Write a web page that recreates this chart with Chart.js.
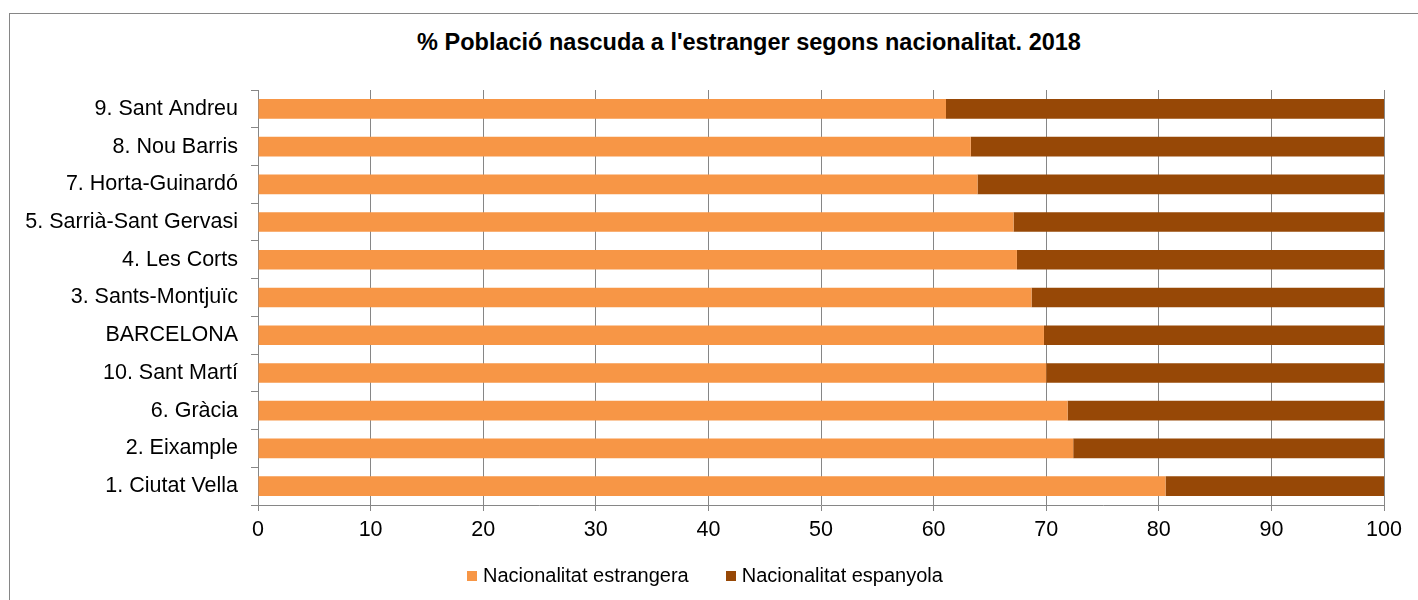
<!DOCTYPE html>
<html>
<head>
<meta charset="utf-8">
<title>Població nascuda a l'estranger</title>
<script src="https://cdn.jsdelivr.net/npm/chart.js@4.4.1/dist/chart.umd.min.js"></script>
<style>
  body { margin: 0; background: #fff; overflow: hidden; font-family: 'Liberation Sans', Arial, sans-serif; }
  .frame { position: absolute; left: 9px; top: 13px; width: 1478px; height: 700px; border: 1px solid #868686; }
  .title { position: absolute; left: 9px; top: 31px; width: 1480px; text-align: center; font-weight: bold; font-size: 23.5px; line-height: 23.5px; color: #000; }
  #barchart { position: absolute; left: 0; top: 0; }
  #legend { position: absolute; left: 467px; top: 565px; display: flex; font-size: 20px; line-height: 20px; color: #000; }
  #legend .item { display: flex; align-items: center; margin-right: 37px; }
  #legend .box { width: 10px; height: 10px; margin-right: 6px; margin-top: 2px; }
</style>
</head>
<body>
<div class="frame"></div>
<div class="title">% Població nascuda a l'estranger segons nacionalitat. 2018</div>
<canvas id="barchart" width="1418" height="600"></canvas>
<div id="legend"></div>
<script>
const districtes = ['9. Sant Andreu', '8. Nou Barris', '7. Horta-Guinardó', '5. Sarrià-Sant Gervasi', '4. Les Corts',
  '3. Sants-Montjuïc', 'BARCELONA', '10. Sant Martí', '6. Gràcia', '2. Eixample', '1. Ciutat Vella'];
const estrangera = [61.1, 63.3, 63.9, 67.1, 67.4, 68.7, 69.8, 70.0, 71.9, 72.4, 80.6];
const espanyola = [38.9, 36.7, 36.1, 32.9, 32.6, 31.3, 30.2, 30.0, 28.1, 27.6, 19.4];
const ticksX = [0, 10, 20, 30, 40, 50, 60, 70, 80, 90, 100];

const gris = '#868686';
const lletra = { family: "'Liberation Sans', Arial, sans-serif", size: 21.5 };

document.addEventListener('DOMContentLoaded', function() {
  const ctx = document.getElementById('barchart');

  const chart = new Chart(ctx, {
    type: 'bar',
    data: {
      labels: districtes,
      datasets: [
        {
          label: 'Nacionalitat estrangera',
          data: estrangera,
          backgroundColor: '#F79646',
          barPercentage: 0.52,
          categoryPercentage: 1
        },
        {
          label: 'Nacionalitat espanyola',
          data: espanyola,
          backgroundColor: '#974806',
          barPercentage: 0.52,
          categoryPercentage: 1
        }
      ]
    },
    options: {
      indexAxis: 'y',
      responsive: false,
      animation: false,
      layout: { padding: { top: 90, left: 10, right: 34, bottom: 55 } },
      plugins: {
        legend: { display: false },
        title: { display: false },
        tooltip: { enabled: false }
      },
      scales: {
        x: {
          stacked: true,
          min: ticksX[0],
          max: ticksX[ticksX.length - 1],
          afterBuildTicks: function(scale) {
            scale.ticks = ticksX.map(v => ({ value: v }));
          },
          afterFit: function(scale) { scale.height = 40; },
          grid: { color: gris, lineWidth: 1, tickLength: 6, drawTicks: true },
          border: { color: gris, width: 1 },
          ticks: { color: '#000', font: lletra, padding: 6, maxRotation: 0 }
        },
        y: {
          stacked: true,
          afterFit: function(scale) { scale.width = 248; },
          grid: { color: gris, drawOnChartArea: false, tickLength: 7, offset: true },
          border: { color: gris, width: 1 },
          ticks: { color: '#000', font: lletra, padding: 13 }
        }
      }
    }
  });

  // llegenda sota el gràfic
  const legend = document.getElementById('legend');
  chart.data.datasets.forEach(function(ds) {
    const item = document.createElement('div');
    item.className = 'item';
    const box = document.createElement('span');
    box.className = 'box';
    box.style.background = ds.backgroundColor;
    const txt = document.createElement('span');
    txt.textContent = ds.label;
    item.appendChild(box);
    item.appendChild(txt);
    legend.appendChild(item);
  });
});
</script>
</body>
</html>
